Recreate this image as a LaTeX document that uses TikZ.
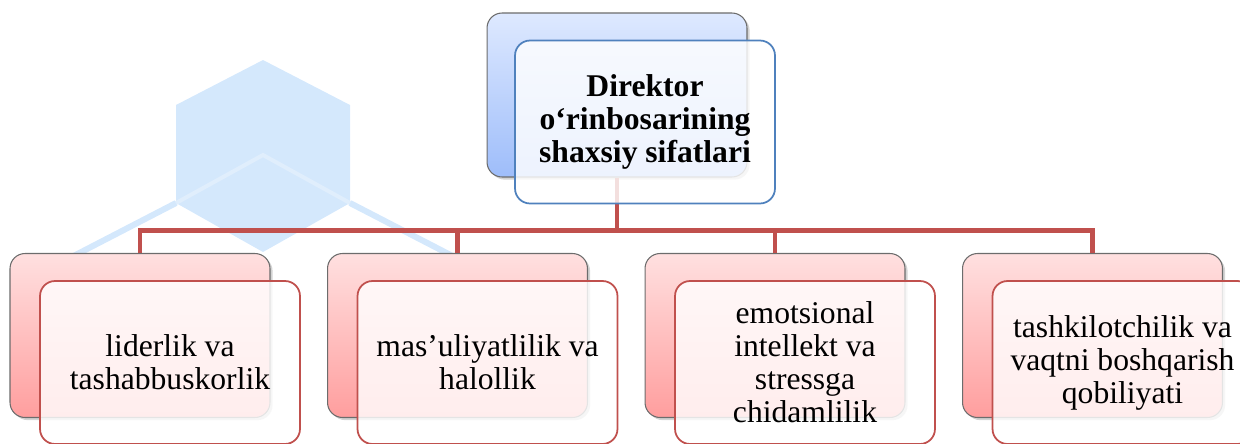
\documentclass[tikz,border=0pt]{standalone}
\usepackage{fontspec}
\setmainfont{Liberation Serif}
\usetikzlibrary{shadows}
\definecolor{connred}{RGB}{192,80,77}
\definecolor{frontblue}{RGB}{79,129,189}
\definecolor{wmblue}{RGB}{212,232,252}
\definecolor{wmlight}{RGB}{224,238,252}
\tikzset{
  backbox/.style={draw=gray!85!black, line width=0.6pt, rounded corners=0.3cm,
    minimum width=5.2cm, minimum height=3.28cm, inner sep=0pt,
    drop shadow={opacity=0.35, shadow xshift=1.5pt, shadow yshift=-1.5pt}},
  pinkback/.style={backbox, top color={rgb,255:red,255;green,224;blue,224}, bottom color={rgb,255:red,255;green,158;blue,158}},
  blueback/.style={backbox, top color={rgb,255:red,222;green,233;blue,255}, bottom color={rgb,255:red,158;green,189;blue,250}},
  frontbox/.style={rounded corners=0.3cm, line width=1pt, minimum width=5.2cm,
    minimum height=3.26cm, inner sep=0pt, align=center, fill=white, fill opacity=0.82, text opacity=1,
    font=\fontsize{18}{18.8}\selectfont},
  pinkfront/.style={frontbox, draw=connred},
  bluefront/.style={frontbox, draw=frontblue, font=\fontsize{18}{18.6}\selectfont\bfseries},
  conn/.style={draw=connred, line width=2.3pt, line join=miter},
  wmline/.style={draw=wmblue, line width=0.12cm}
}
\begin{document}
\begin{tikzpicture}[x=0.02cm, y=-0.02cm]
\useasboundingbox (0,0) rectangle (1240,443);
% watermark
\fill[wmblue] (263,60) -- (350,105) -- (350,203) -- (263,252) -- (176,203) -- (176,105) -- cycle;
\draw[wmlight, line width=0.08cm] (176,203) -- (263,155) -- (350,203);
\draw[wmline] (176,203) -- (60,263);
\draw[wmline] (350,203) -- (466,263);
% back boxes
\node[blueback] (tb) at (617,95) {};
\node[pinkback] (b1) at (140,335.5) {};
\node[pinkback] (b2) at (457.5,335.5) {};
\node[pinkback] (b3) at (775,335.5) {};
\node[pinkback] (b4) at (1092.5,335.5) {};
% connectors
\draw[conn] (tb.south) -- ++(0,53) -| (b1.north);
\draw[conn] (tb.south) -- ++(0,53) -| (b2.north);
\draw[conn] (tb.south) -- ++(0,53) -| (b3.north);
\draw[conn] (tb.south) -- ++(0,53) -| (b4.north);
% front boxes
\node[bluefront] (tf) at (645,122) {Direktor\\o‘rinbosarining\\shaxsiy sifatlari};
\node[pinkfront] (f1) at (170,362.5) {liderlik va\\tashabbuskorlik};
\node[pinkfront] (f2) at (487.5,362.5) {mas’uliyatlilik va\\halollik};
\node[pinkfront] (f3) at (805,362.5) {emotsional\\intellekt va\\stressga\\chidamlilik};
\node[pinkfront] (f4) at (1122.5,362.5) {tashkilotchilik va\\vaqtni boshqarish\\qobiliyati};
\end{tikzpicture}
\end{document}
